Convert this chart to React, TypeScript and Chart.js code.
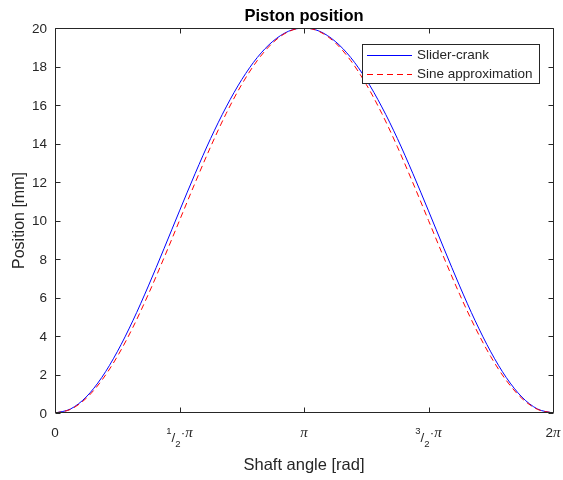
import React, { useEffect, useRef } from 'react';
import { Chart, registerables } from 'chart.js';

Chart.register(...registerables);

// Shaft angle samples, in multiples of pi
const anglesOverPi = [
  0, 0.0625, 0.125, 0.1875, 0.25, 0.3125, 0.375, 0.4375, 0.5, 0.5625, 0.625, 0.6875, 0.75, 0.8125, 0.875, 0.9375,
  1, 1.0625, 1.125, 1.1875, 1.25, 1.3125, 1.375, 1.4375, 1.5, 1.5625, 1.625, 1.6875, 1.75, 1.8125, 1.875, 1.9375, 2,
];
// Position [mm]
const sliderCrank = [
  0, 0.21, 0.83, 1.84, 3.18, 4.79, 6.6, 8.53, 10.5, 12.43, 14.26, 15.9, 17.32, 18.47, 19.31, 19.83,
  20, 19.83, 19.31, 18.47, 17.32, 15.9, 14.26, 12.43, 10.5, 8.53, 6.6, 4.79, 3.18, 1.84, 0.83, 0.21, 0,
];
const sineApprox = [
  0, 0.19, 0.76, 1.69, 2.93, 4.44, 6.17, 8.05, 10, 11.95, 13.83, 15.56, 17.07, 18.31, 19.24, 19.81,
  20, 19.81, 19.24, 18.31, 17.07, 15.56, 13.83, 11.95, 10, 8.05, 6.17, 4.44, 2.93, 1.69, 0.76, 0.19, 0,
];
const seriesNames = ['Slider-crank', 'Sine approximation'];
const seriesColors = ['#0000ff', '#ff0000'];
const xTickPositionsOverPi = [0, 0.5, 1, 1.5, 2];
const xTickLabels = ['0', '1/2·π', 'π', '3/2·π', '2π'];
const yTickValues = [0, 2, 4, 6, 8, 10, 12, 14, 16, 18, 20];
const chartTitle = 'Piston position';
const xAxisTitle = 'Shaft angle [rad]';
const yAxisTitle = 'Position [mm]';

const SANS = '"Liberation Sans", Arial, Helvetica, sans-serif';
const AXIS_COLOR = '#262626';
const TICK_FONT = `13.5px ${SANS}`;
const SMALL_FONT = `9.5px ${SANS}`;
const PI_FONT = `italic 15px "Liberation Serif", "DejaVu Serif", serif`;

function drawXLabel(ctx: CanvasRenderingContext2D, label: string, cx: number, base: number) {
  type Part = { t: string; font: string; y: number };
  let parts: Part[] = [];
  const m = label.match(/^(\d+)\/(\d+)·(.*)$/);
  if (m) {
    parts = [
      { t: m[1], font: SMALL_FONT, y: base - 3 },
      { t: '/', font: TICK_FONT, y: base + 5 },
      { t: m[2], font: SMALL_FONT, y: base + 9.5 },
      { t: '·', font: TICK_FONT, y: base },
      { t: m[3], font: PI_FONT, y: base },
    ];
  } else {
    const idx = label.indexOf('π');
    if (idx < 0) parts = [{ t: label, font: TICK_FONT, y: base }];
    else {
      if (idx > 0) parts.push({ t: label.slice(0, idx), font: TICK_FONT, y: base });
      parts.push({ t: 'π', font: PI_FONT, y: base });
    }
  }
  let total = 0;
  const widths = parts.map((p) => {
    ctx.font = p.font;
    const w = ctx.measureText(p.t).width;
    total += w;
    return w;
  });
  let x = cx - total / 2;
  ctx.textAlign = 'left';
  ctx.textBaseline = 'alphabetic';
  parts.forEach((p, i) => {
    ctx.font = p.font;
    ctx.fillText(p.t, x, p.y);
    x += widths[i];
  });
}

const matlabAxes = {
  id: 'matlabAxes',
  afterDatasetsDraw(chart: any) {
    const { ctx, chartArea: a, scales } = chart;
    const xs = scales.x;
    const ys = scales.y;
    const L = Math.round(a.left) + 0.5;
    const R = Math.round(a.right) + 0.5;
    const T = Math.round(a.top) + 0.5;
    const B = Math.round(a.bottom) - 0.5;
    const TL = 5;
    ctx.save();
    ctx.strokeStyle = AXIS_COLOR;
    ctx.lineWidth = 1;
    ctx.setLineDash([]);
    ctx.beginPath();
    ctx.rect(L, T, R - L, B - T);
    yTickValues.forEach((v) => {
      const py = Math.round(ys.getPixelForValue(v)) + 0.5;
      ctx.moveTo(L, py);
      ctx.lineTo(L + TL, py);
      ctx.moveTo(R, py);
      ctx.lineTo(R - TL, py);
    });
    xTickPositionsOverPi.forEach((p) => {
      const px = Math.round(xs.getPixelForValue(p * Math.PI)) + 0.5;
      ctx.moveTo(px, B);
      ctx.lineTo(px, B - TL);
      ctx.moveTo(px, T);
      ctx.lineTo(px, T + TL);
    });
    ctx.stroke();

    // tick labels
    ctx.fillStyle = AXIS_COLOR;
    ctx.font = TICK_FONT;
    ctx.textAlign = 'right';
    ctx.textBaseline = 'middle';
    yTickValues.forEach((v) => {
      ctx.fillText(String(v), a.left - 8, ys.getPixelForValue(v) + 1);
    });
    xTickPositionsOverPi.forEach((p, i) => {
      drawXLabel(ctx, xTickLabels[i], xs.getPixelForValue(p * Math.PI), a.bottom + 24);
    });

    // axis titles
    ctx.textAlign = 'center';
    ctx.textBaseline = 'alphabetic';
    ctx.font = `16.5px ${SANS}`;
    ctx.fillText(xAxisTitle, (a.left + a.right) / 2, a.bottom + 57);
    ctx.save();
    ctx.translate(24, (a.top + a.bottom) / 2);
    ctx.rotate(-Math.PI / 2);
    ctx.font = `16px ${SANS}`;
    ctx.fillText(yAxisTitle, 0, 0);
    ctx.restore();

    // title
    ctx.fillStyle = '#000000';
    ctx.font = `bold 16.5px ${SANS}`;
    ctx.fillText(chartTitle, (a.left + a.right) / 2, a.top - 7);

    // legend
    const ds = chart.data.datasets;
    ctx.font = TICK_FONT;
    let maxW = 0;
    ds.forEach((d: any) => {
      maxW = Math.max(maxW, ctx.measureText(d.label).width);
    });
    const boxW = Math.round(5 + 45 + 5 + maxW + 6);
    const boxR = Math.round(a.right) - 14;
    const boxL = boxR - boxW;
    const boxT = Math.round(a.top) + 16;
    const rowH = 19;
    const boxH = 39;
    ctx.fillStyle = '#ffffff';
    ctx.fillRect(boxL, boxT, boxW, boxH);
    ctx.strokeStyle = AXIS_COLOR;
    ctx.strokeRect(boxL + 0.5, boxT + 0.5, boxW, boxH);
    ds.forEach((d: any, i: number) => {
      const ry = boxT + 11.5 + i * rowH;
      ctx.strokeStyle = seriesColors[i];
      ctx.lineWidth = 1;
      ctx.setLineDash(d.borderDash || []);
      ctx.beginPath();
      ctx.moveTo(boxL + 5, ry);
      ctx.lineTo(boxL + 50, ry);
      ctx.stroke();
      ctx.setLineDash([]);
      ctx.fillStyle = AXIS_COLOR;
      ctx.textAlign = 'left';
      ctx.textBaseline = 'middle';
      ctx.font = TICK_FONT;
      ctx.fillText(d.label, boxL + 55, ry);
    });
    ctx.restore();
  },
};

export default function App() {
  const canvasRef = useRef<HTMLCanvasElement | null>(null);

  useEffect(() => {
    const canvas = canvasRef.current;
    if (!canvas) return;
    const chart = new Chart(canvas, {
      type: 'line',
      data: {
        datasets: [
          {
            label: seriesNames[0],
            data: anglesOverPi.map((p, i) => ({ x: p * Math.PI, y: sliderCrank[i] })),
            borderColor: seriesColors[0],
            backgroundColor: seriesColors[0],
            borderWidth: 1,
            pointRadius: 0,
            cubicInterpolationMode: 'monotone',
            fill: false,
            order: 1,
          },
          {
            label: seriesNames[1],
            data: anglesOverPi.map((p, i) => ({ x: p * Math.PI, y: sineApprox[i] })),
            borderColor: seriesColors[1],
            backgroundColor: seriesColors[1],
            borderWidth: 1,
            borderDash: [6, 4],
            pointRadius: 0,
            cubicInterpolationMode: 'monotone',
            fill: false,
            order: 0,
          },
        ],
      },
      options: {
        responsive: false,
        animation: false,
        devicePixelRatio: 1,
        layout: { padding: { top: 28, right: 10, left: 0, bottom: 0 } },
        plugins: {
          legend: { display: false },
          tooltip: { enabled: false },
          title: { display: false },
        },
        scales: {
          x: {
            type: 'linear',
            min: 0,
            max: 2 * Math.PI,
            grid: { display: false, drawTicks: false },
            border: { display: false },
            ticks: { display: false },
            afterFit: (s: any) => {
              s.height = 67;
              s.paddingLeft = 0;
              s.paddingRight = 0;
            },
          },
          y: {
            type: 'linear',
            min: 0,
            max: 20,
            grid: { display: false, drawTicks: false },
            border: { display: false },
            ticks: { display: false, stepSize: 2 },
            afterFit: (s: any) => {
              s.width = 55;
              s.paddingTop = 0;
              s.paddingBottom = 0;
            },
          },
        },
      } as any,
      plugins: [matlabAxes as any],
    });
    return () => chart.destroy();
  }, []);

  return (
    <div style={{ position: 'fixed', left: 0, top: 0, width: 563, height: 480, background: '#ffffff' }}>
      <canvas ref={canvasRef} width={563} height={480} style={{ display: 'block' }} />
    </div>
  );
}
